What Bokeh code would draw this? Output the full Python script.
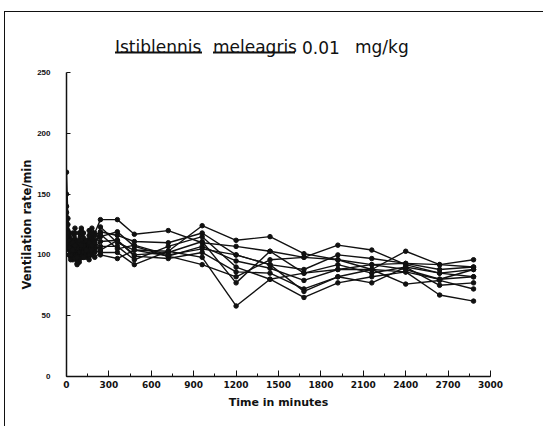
from bokeh.plotting import figure
from bokeh.layouts import column
from bokeh.models import Range1d, FixedTicker
from bokeh.core.properties import value
from bokeh.embed import file_html
from bokeh.resources import INLINE

# ---- data -------------------------------------------------------------
title_parts = ["Istiblennis", "meleagris", "0.01", "mg/kg"]
x_ticks = [0, 300, 600, 900, 1200, 1500, 1800, 2100, 2400, 2700, 3000]
y_ticks = [0, 50, 100, 150, 200, 250]

times = [0, 10, 20, 30, 45, 60, 75, 90, 105, 120, 140, 160, 180, 200,
         240, 360, 480, 720, 960, 1200, 1440, 1680, 1920, 2160, 2400, 2640, 2880]

fish1 = [168, 130, 115, 105, 112, 122, 108, 100, 110, 118, 104, 112, 122, 118,
         129, 129, 117, 120, 110, 107, 103, 98, 108, 104, 92, 85, 88]
fish2 = [150, 125, 110, 100, 104, 110, 96, 104, 120, 108, 100, 106, 112, 108,
         123, 110, 104, 103, 124, 112, 115, 101, 96, 88, 103, 92, 96]
fish3 = [140, 120, 118, 112, 100, 98, 93, 98, 104, 100, 106, 120, 114, 116,
         119, 116, 111, 110, 118, 100, 92, 88, 100, 97, 93, 88, 90]
fish4 = [135, 115, 105, 98, 96, 104, 100, 94, 100, 104, 110, 100, 106, 110,
         115, 119, 107, 99, 107, 95, 89, 79, 88, 92, 88, 80, 82]
fish5 = [130, 112, 108, 104, 108, 100, 110, 118, 106, 98, 102, 108, 102, 106,
         111, 112, 99, 97, 102, 86, 85, 72, 82, 77, 90, 75, 77]
fish6 = [128, 110, 100, 110, 118, 112, 100, 96, 102, 114, 100, 104, 110, 104,
         107, 107, 96, 107, 115, 90, 80, 85, 88, 88, 76, 79, 72]
fish7 = [125, 108, 104, 96, 98, 102, 92, 100, 98, 102, 98, 96, 100, 98,
         102, 102, 92, 103, 98, 58, 80, 65, 77, 82, 86, 67, 62]
fish8 = [120, 112, 112, 108, 102, 97, 106, 112, 122, 106, 100, 116, 108, 112,
         100, 97, 104, 99, 92, 82, 96, 98, 96, 92, 93, 92, 90]
fish9 = [118, 105, 100, 102, 110, 118, 104, 98, 100, 108, 112, 100, 104, 102,
         104, 112, 100, 102, 111, 77, 103, 85, 92, 85, 90, 85, 82]
fish10 = [115, 118, 106, 100, 104, 108, 98, 102, 108, 98, 104, 110, 118, 110,
          117, 105, 108, 100, 105, 100, 92, 70, 82, 88, 86, 80, 88]
series = [fish1, fish2, fish3, fish4, fish5, fish6, fish7, fish8, fish9, fish10]

INK = "#111111"
W = 538
BL, BR = 61, 53          # frame borders

# ---- title strip (x/y in page pixels) ------------------------------------
top = figure(width=W, height=52, x_range=Range1d(66.5, 490.5), y_range=Range1d(64.5, 12.5),
             x_axis_type=None, y_axis_type=None, output_backend="svg",
             toolbar_location=None, min_border_left=BL, min_border_right=BR,
             min_border_top=0, min_border_bottom=0)
top.grid.visible = False
top.outline_line_color = None
title_x = [115, 213, 302, 355]
top.text(x=title_x, y=[47, 47, 47, 47], text=title_parts,
         text_font=value("DejaVu Sans"), text_font_size="17px",
         text_color=INK, text_align="left", text_baseline="alphabetic")
top.segment(x0=[115, 213], y0=[52.5, 52.5], x1=[202, 295], y1=[52.5, 52.5],
            line_color=INK, line_width=1.8)

# ---- main plot ----------------------------------------------------------
p = figure(width=W, height=362, x_range=Range1d(0, 3000), y_range=Range1d(0, 250),
           output_backend="svg", toolbar_location=None,
           min_border_left=BL, min_border_right=BR, min_border_top=8, min_border_bottom=50)
p.grid.visible = False
p.outline_line_color = None

for s in series:
    p.line(times, s, line_color=INK, line_width=1.4)
    p.scatter(times, s, size=4.5, color=INK)

xa = p.xaxis[0]
xa.ticker = FixedTicker(ticks=x_ticks, minor_ticks=list(range(0, 3001, 150)))
xa.major_tick_in = 6
xa.major_tick_out = 0
xa.minor_tick_in = 3
xa.minor_tick_out = 0
xa.axis_line_width = 1.5
xa.axis_line_color = INK
xa.major_tick_line_color = INK
xa.minor_tick_line_color = INK
xa.major_label_text_font = "DejaVu Sans"
xa.major_label_text_font_style = "bold"
xa.major_label_text_font_size = "9px"
xa.major_label_text_color = INK
xa.major_label_standoff = 4
xa.axis_label = "Time in minutes"
xa.axis_label_text_font = "DejaVu Sans"
xa.axis_label_text_font_style = "bold"
xa.axis_label_text_font_size = "11px"
xa.axis_label_text_color = INK
xa.axis_label_standoff = 5

ya = p.yaxis[0]
ya.ticker = FixedTicker(ticks=y_ticks, minor_ticks=[])
ya.major_tick_in = 4
ya.major_tick_out = 0
ya.axis_line_width = 1.5
ya.axis_line_color = INK
ya.major_tick_line_color = INK
ya.major_label_text_font = "Liberation Sans"
ya.major_label_text_font_style = "bold"
ya.major_label_text_font_size = "8px"
ya.major_label_text_color = INK
ya.major_label_standoff = 16
ya.axis_label = "Ventilation rate/min"
ya.axis_label_text_font = "DejaVu Sans"
ya.axis_label_text_font_style = "bold"
ya.axis_label_text_font_size = "11.5px"
ya.axis_label_text_color = INK
ya.axis_label_standoff = 0

layout = column(top, p, styles={"border-left": "1.5px solid #111111",
                                "border-top": "1.5px solid #111111",
                                "border-right": "none", "border-bottom": "none",
                                "margin-left": "4px", "margin-top": "11px"})

open("out.html", "w").write(file_html(layout, INLINE))
